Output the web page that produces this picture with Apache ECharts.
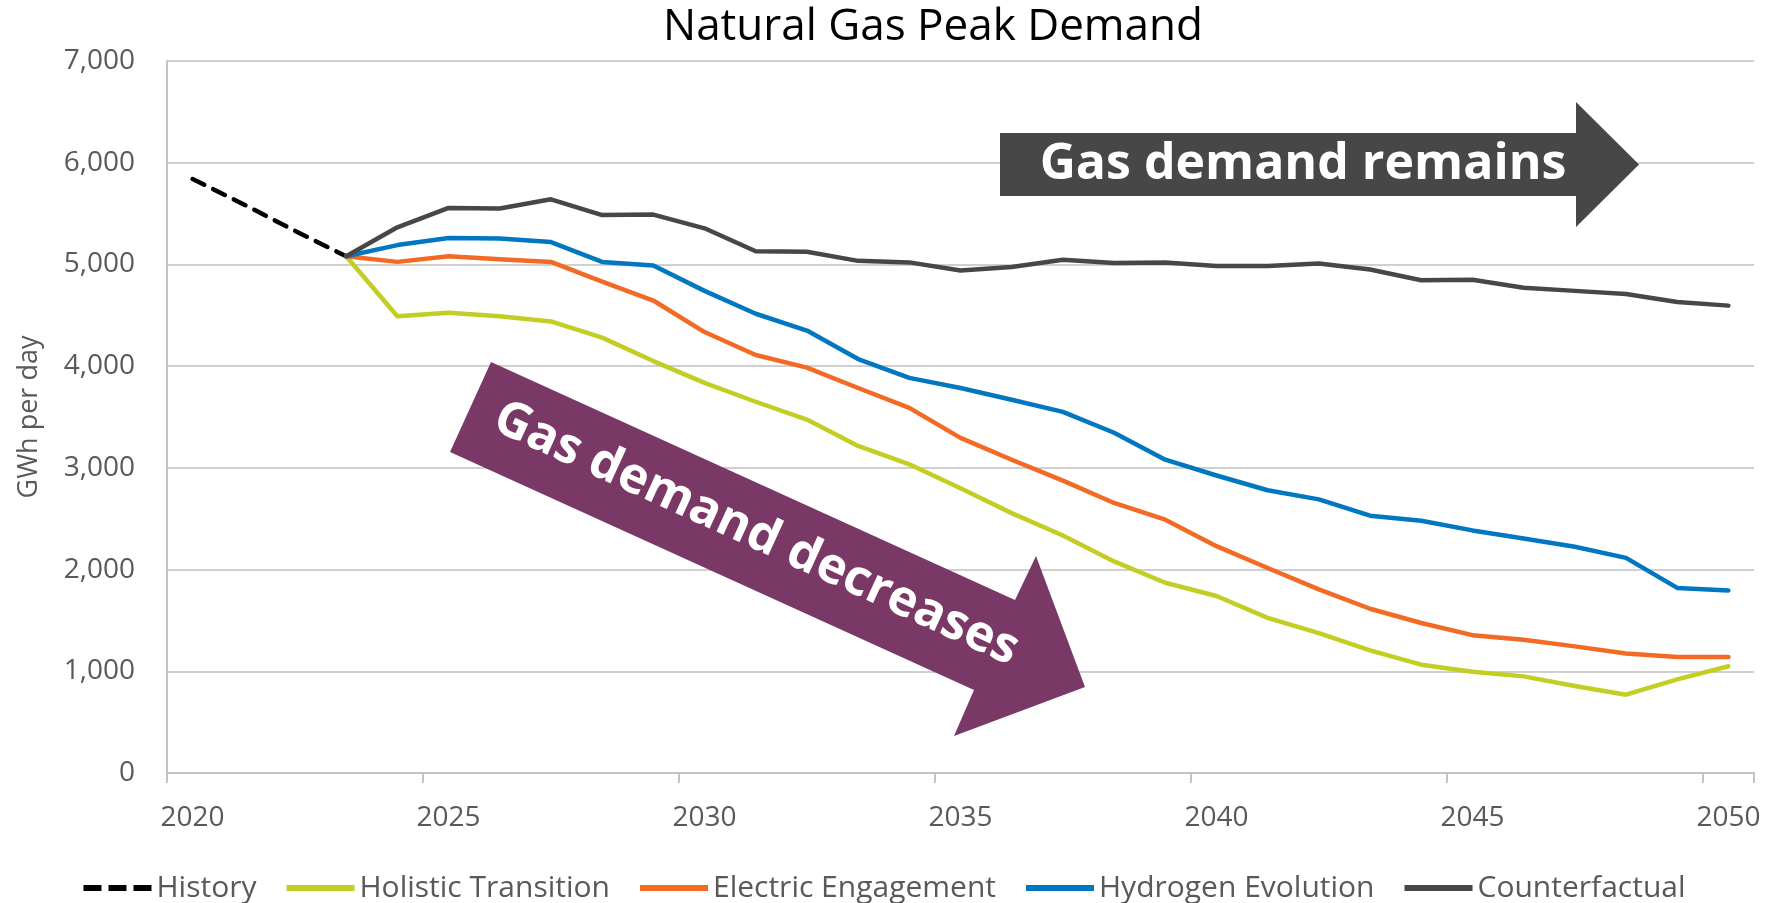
<!DOCTYPE html>
<html>
<head>
<meta charset="utf-8">
<title>Natural Gas Peak Demand</title>
<script src="https://cdn.jsdelivr.net/npm/echarts@6.0.0/dist/echarts.min.js"></script>
<style>
  html, body { margin: 0; padding: 0; background: #fff; }
  #chart { width: 1769px; height: 903px; }
</style>
</head>
<body>
<div id="chart"></div>
<script>
// categories (one per year)
const years = ['2020', '2021', '2022', '2023', '2024', '2025', '2026', '2027', '2028', '2029',
  '2030', '2031', '2032', '2033', '2034', '2035', '2036', '2037', '2038', '2039',
  '2040', '2041', '2042', '2043', '2044', '2045', '2046', '2047', '2048', '2049', '2050']

// GWh per day, history 2020-2023
const history = [5840, 5590, 5330, 5080]

// scenarios 2023-2050
const holistic = [5080, 4490, 4525, 4490, 4440, 4280, 4050, 3835, 3650, 3475,
  3215, 3035, 2800, 2555, 2335, 2080, 1870, 1740, 1525, 1375,
  1205, 1065, 995, 950, 855, 770, 920, 1050]
const electric = [5080, 5025, 5080, 5050, 5025, 4830, 4645, 4335, 4110, 3985,
  3785, 3590, 3295, 3080, 2875, 2655, 2490, 2230, 2015, 1805,
  1615, 1475, 1355, 1310, 1245, 1175, 1140, 1140]
const hydrogen = [5080, 5190, 5260, 5255, 5220, 5025, 4990, 4740, 4515, 4350,
  4070, 3885, 3785, 3670, 3550, 3345, 3080, 2925, 2780, 2690,
  2530, 2480, 2385, 2305, 2225, 2115, 1820, 1795]
const counterfactual = [5080, 5365, 5555, 5550, 5640, 5485, 5490, 5355, 5130, 5125,
  5035, 5020, 4940, 4975, 5045, 5015, 5020, 4985, 4985, 5010,
  4950, 4845, 4850, 4770, 4740, 4710, 4630, 4595]

const yTicks = { min: 0, max: 7000, interval: 1000 }

const FONT = '"Open Sans", "DejaVu Sans", sans-serif'
const AXIS_TEXT = '#595959'

// legend icons: solid bar and three dashes
const SOLID_ICON = 'path://M0,0H68V6H0Z'
const DASH_ICON = 'path://M0,0H18V6H0Z M25,0H43V6H25Z M50,0H68V6H50Z'

// pad a series so it lines up with the year categories
const startIdx = years.indexOf('2023')
const padStart = arr => years.map((_, i) => (i < startIdx ? null : arr[i - startIdx]))
const padEnd = arr => years.map((_, i) => (i < arr.length ? arr[i] : null))

const chart = echarts.init(document.getElementById('chart'))

const lineSeries = (name, data, color, extra) => Object.assign({
  name,
  type: 'line',
  data,
  symbol: 'none',
  showSymbol: false,
  lineStyle: { color, width: 4.5, cap: 'round', join: 'round' },
  itemStyle: { color },
  emphasis: { disabled: true },
}, extra || {})

const option = {
  backgroundColor: '#ffffff',
  animation: false,
  textStyle: { fontFamily: FONT },
  title: {
    text: 'Natural Gas Peak Demand',
    left: 658,
    top: 0,
    textStyle: { fontSize: 44, fontWeight: 'normal', color: '#000', fontFamily: FONT },
  },
  legend: {
    left: 'center',
    top: 868,
    itemWidth: 68,
    itemHeight: 6,
    itemGap: 30,
    textStyle: { fontSize: 30, color: AXIS_TEXT, fontFamily: FONT },
    data: [
      { name: 'History', icon: DASH_ICON },
      { name: 'Holistic Transition', icon: SOLID_ICON },
      { name: 'Electric Engagement', icon: SOLID_ICON },
      { name: 'Hydrogen Evolution', icon: SOLID_ICON },
      { name: 'Counterfactual', icon: SOLID_ICON },
    ],
  },
  grid: {
    left: 167,
    right: 15,
    top: 61,
    bottom: 130,
  },
  xAxis: {
    type: 'category',
    data: years,
    boundaryGap: true,
    axisLine: { lineStyle: { color: '#C4C4C4', width: 2 } },
    axisTick: { show: true, interval: 4, length: 10, lineStyle: { color: '#C4C4C4', width: 2 } },
    axisLabel: { interval: 4, fontSize: 28, color: AXIS_TEXT, margin: 31, fontFamily: FONT },
    splitLine: { show: false },
  },
  yAxis: {
    type: 'value',
    min: yTicks.min,
    max: yTicks.max,
    interval: yTicks.interval,
    name: 'GWh per day',
    nameLocation: 'middle',
    nameGap: 124,
    nameTextStyle: { fontSize: 27, color: AXIS_TEXT, fontFamily: FONT },
    axisLine: { show: true, lineStyle: { color: '#C4C4C4', width: 2 } },
    axisTick: { show: false },
    axisLabel: {
      fontSize: 28,
      color: AXIS_TEXT,
      margin: 32,
      fontFamily: FONT,
      formatter: v => v.toLocaleString('en-US'),
    },
    splitLine: { lineStyle: { color: '#D0D0D0', width: 2 } },
  },
  series: [
    lineSeries('History', padEnd(history), '#000000', {
      lineStyle: { color: '#000000', width: 4.5, type: [13, 10], cap: 'round' },
      z: 3,
    }),
    lineSeries('Holistic Transition', padStart(holistic), '#C3CD23'),
    lineSeries('Electric Engagement', padStart(electric), '#F26A24'),
    lineSeries('Hydrogen Evolution', padStart(hydrogen), '#0077C0'),
    lineSeries('Counterfactual', padStart(counterfactual), '#474747'),
  ],
  // call-out arrows
  graphic: [
    {
      type: 'polygon',
      shape: {
        points: [[1000, 133], [1576, 133], [1576, 102], [1639, 164.5], [1576, 227], [1576, 196], [1000, 196]],
      },
      style: { fill: '#474747' },
      z: 10,
    },
    {
      type: 'text',
      x: 1303,
      y: 165,
      style: {
        text: 'Gas demand remains',
        fill: '#ffffff',
        font: 'bold 50px ' + FONT,
        align: 'center',
        verticalAlign: 'middle',
      },
      z: 11,
    },
    {
      type: 'polygon',
      shape: {
        points: [[491, 362], [1015, 600], [1036, 556], [1085, 687], [954, 736], [974, 690], [450, 452]],
      },
      style: { fill: '#7A3866' },
      z: 10,
    },
    {
      type: 'text',
      x: 756,
      y: 534,
      rotation: -24.5 * Math.PI / 180,
      style: {
        text: 'Gas demand decreases',
        fill: '#ffffff',
        font: 'bold 50px ' + FONT,
        align: 'center',
        verticalAlign: 'middle',
      },
      z: 11,
    },
  ],
}

chart.setOption(option)

window.addEventListener('resize', () => chart.resize())
</script>
</body>
</html>
